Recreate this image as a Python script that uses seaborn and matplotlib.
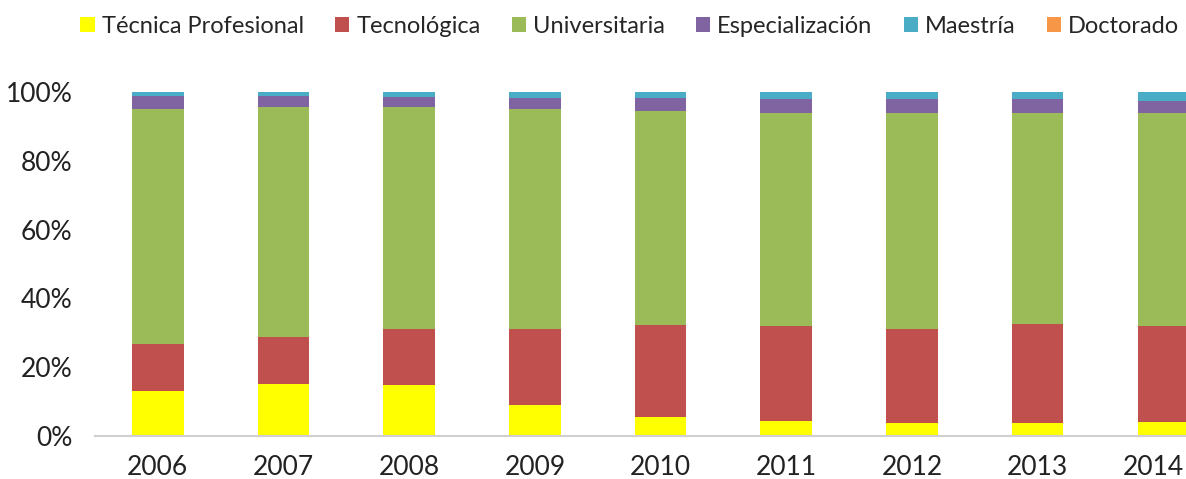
import numpy as np
import pandas as pd
import matplotlib
matplotlib.use("Agg")
import matplotlib.pyplot as plt
import matplotlib.transforms as mtransforms
import seaborn as sns
from matplotlib.patches import Patch

# ----------------------------------------------
# DATA  (share of graduates by level, %)
# ----------------------------------------------
years = ["2006", "2007", "2008", "2009", "2010", "2011", "2012", "2013", "2014"]
levels = ["Técnica Profesional", "Tecnológica", "Universitaria",
          "Especialización", "Maestría", "Doctorado"]

tecnica       = [13.1, 15.0, 14.8, 9.0, 5.4, 4.3, 3.9, 3.7, 4.0]
tecnologica   = [13.7, 13.9, 16.2, 22.0, 26.9, 27.7, 27.3, 28.8, 28.0]
universitaria = [68.2, 66.8, 64.7, 64.0, 62.2, 62.0, 62.8, 61.5, 62.0]
especializ    = [3.8, 3.1, 2.9, 3.4, 3.7, 4.0, 4.0, 4.0, 3.4]
maestria      = [1.1, 1.1, 1.3, 1.5, 1.7, 1.9, 1.9, 1.9, 2.5]
doctorado     = [0.1, 0.1, 0.1, 0.1, 0.1, 0.1, 0.1, 0.1, 0.1]

colors = ["#FFFF00", "#C0504D", "#9BBB59", "#8064A2", "#4BACC6", "#F79646"]

# ----------------------------------------------
# BUILD TABLE
# ----------------------------------------------
df = pd.DataFrame({"year": years})
series = [tecnica, tecnologica, universitaria, especializ, maestria, doctorado]
for name, vals in zip(levels, series):
    df[name] = vals
cum = df[levels].cumsum(axis=1)

sns.set_style("white")
plt.rcParams["font.family"] = ["Lato", "DejaVu Sans"]

fig = plt.figure(figsize=(11.86, 4.79), dpi=100)
ax = fig.add_axes([0.080, 0.0898, 0.92, 0.718])

# stacked bars: draw cumulative totals from the top level down
for name, col in reversed(list(zip(levels, colors))):
    sns.barplot(x=df["year"], y=cum[name], color=col, width=0.41,
                saturation=1, ax=ax, linewidth=0)

ax.set_ylim(0, 100)
ax.set_xlim(-0.5, 8.18)
ax.set_yticks(np.arange(0, 101, 20))
ax.set_yticklabels([f"{v}%" for v in range(0, 101, 20)])
ax.set_xlabel("")
ax.set_ylabel("")
ax.tick_params(axis="both", length=0, labelsize=19, colors="#222222")
ax.tick_params(axis="x", pad=14)
ax.tick_params(axis="y", pad=16)

# last year label sits a little left so it stays inside the image
last = ax.get_xticklabels()[-1]
last.set_transform(last.get_transform() +
                   mtransforms.ScaledTranslation(-10 / 100, 0, fig.dpi_scale_trans))

for s in ["top", "right", "left"]:
    ax.spines[s].set_visible(False)
ax.spines["bottom"].set_color("#d0d0d0")
ax.spines["bottom"].set_linewidth(1.5)

handles = [Patch(facecolor=c, edgecolor="none") for c in colors]
fig.legend(handles, levels, loc="center", bbox_to_anchor=(0.531, 0.945),
           ncol=6, frameon=False, fontsize=17, handlelength=0.6,
           handleheight=0.6, handletextpad=0.3, columnspacing=1.32)

plt.savefig("out.png", dpi=100)
plt.close()
